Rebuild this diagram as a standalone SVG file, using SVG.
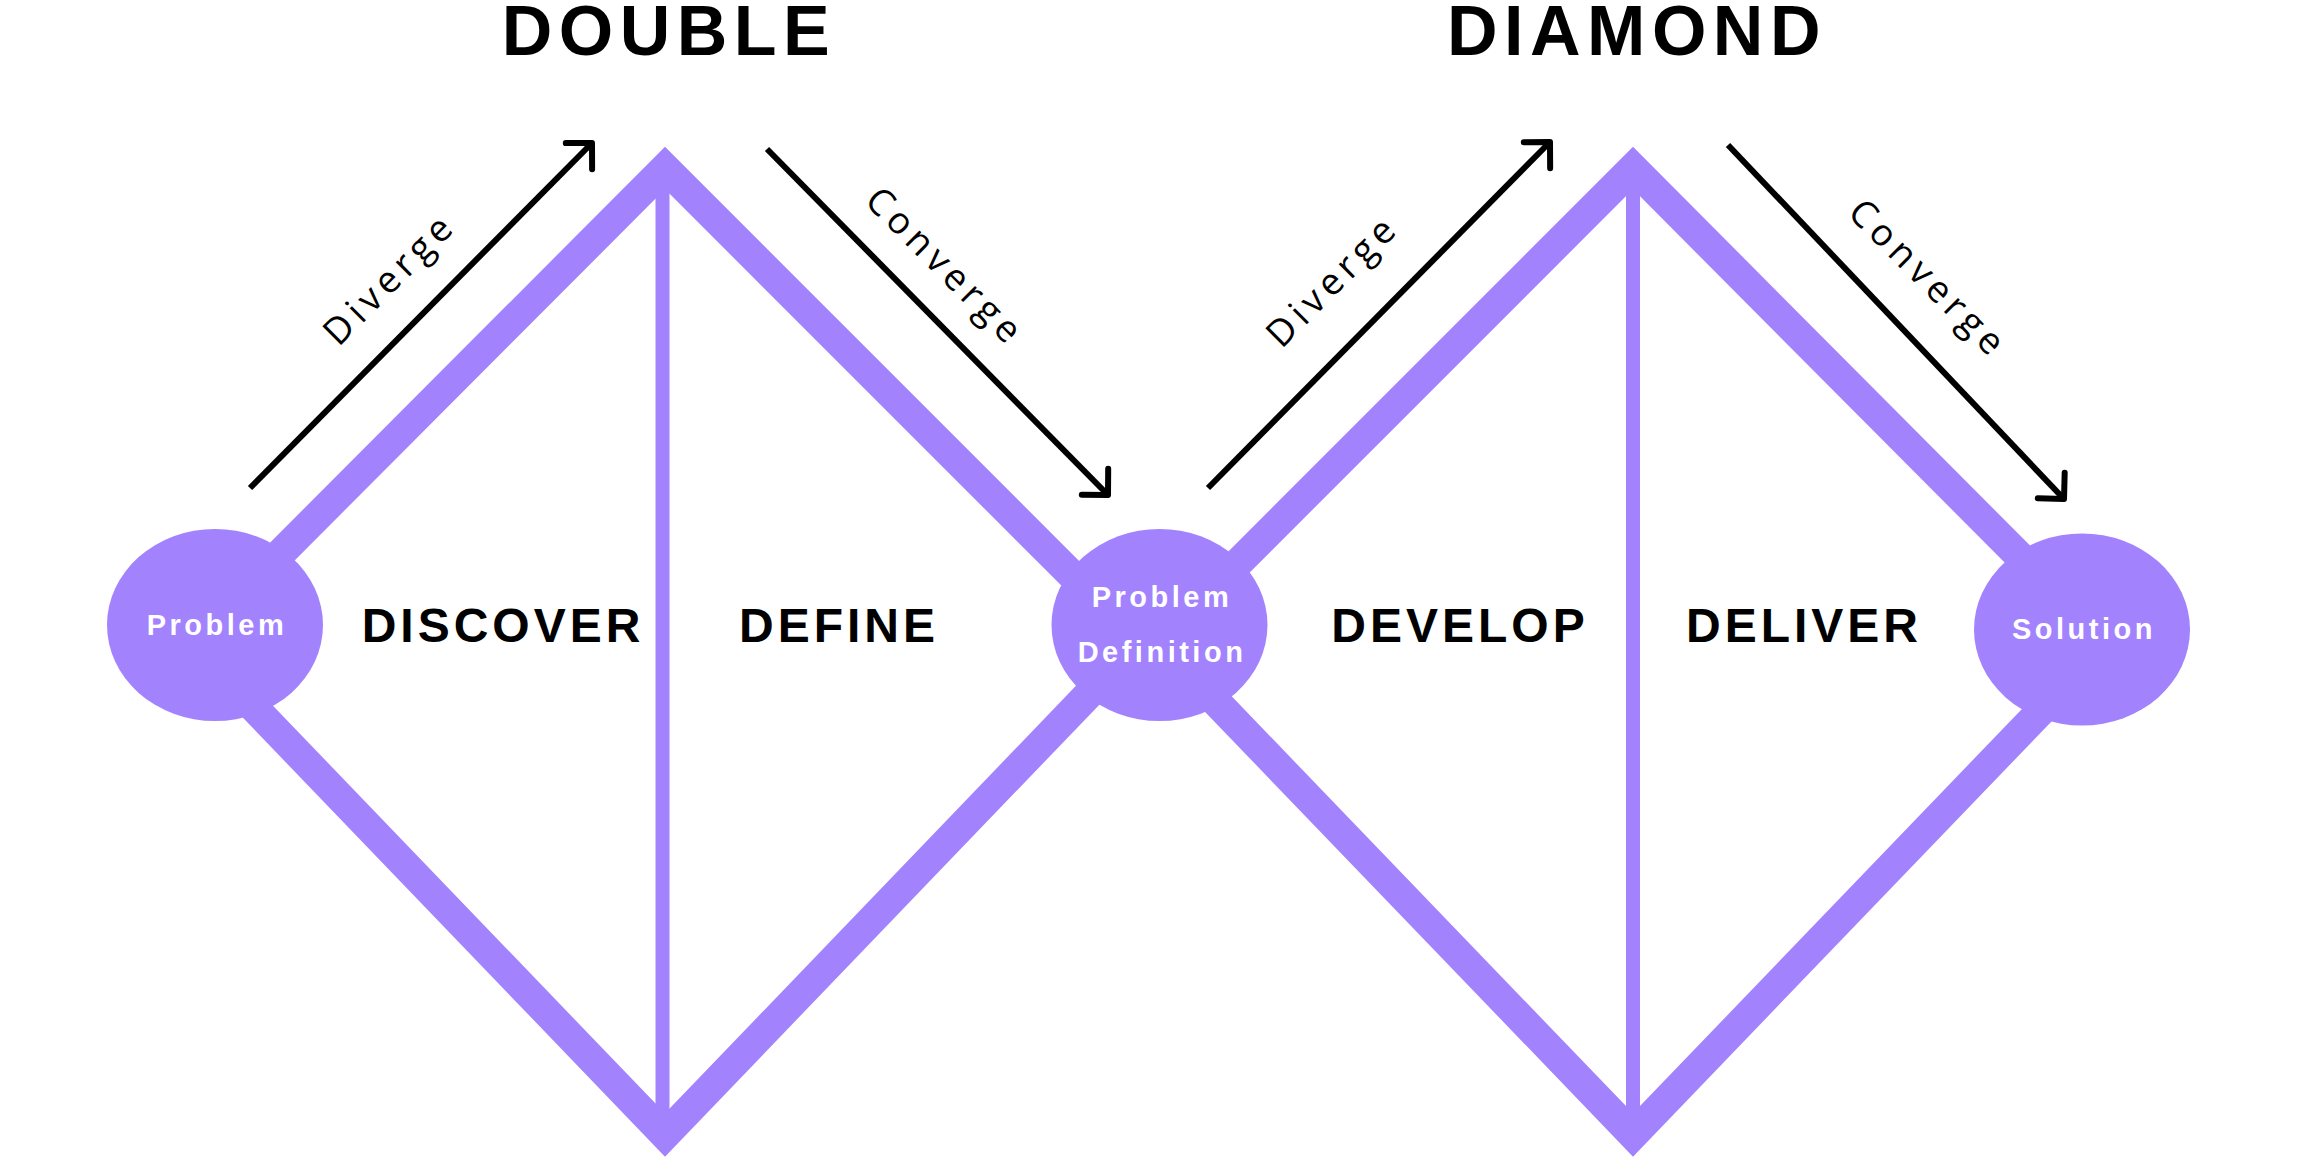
<svg xmlns="http://www.w3.org/2000/svg" width="2298" height="1158" viewBox="0 0 2298 1158">
  <style>
    .band { fill: none; stroke: #a383fd; stroke-width: 30; stroke-linejoin: miter; stroke-miterlimit: 6; }
    .axis { fill: #a383fd; }
    .node { fill: #a383fd; }
    .arrow { fill: none; stroke: #000; stroke-width: 6; marker-end: url(#chev); }
    .title { font-family: "Liberation Sans", Arial, sans-serif; font-weight: 700; font-size: 70px; letter-spacing: 6.5px; fill: #000; text-anchor: middle; }
    .phase { font-family: "Liberation Sans", Arial, sans-serif; font-weight: 700; font-size: 48px; letter-spacing: 4px; fill: #000; text-anchor: middle; }
    .nlabel { font-family: "Liberation Sans", Arial, sans-serif; font-weight: 700; font-size: 29px; letter-spacing: 3.5px; fill: #fff; text-anchor: middle; }
    .dir { font-family: "Open Sans", "Liberation Sans", sans-serif; font-weight: 400; font-size: 37px; letter-spacing: 5.5px; fill: #000; text-anchor: middle; }
  </style>
  <defs>
    <marker id="chev" markerUnits="userSpaceOnUse" orient="auto" refX="0" refY="0" markerWidth="60" markerHeight="60" viewBox="-40 -40 60 80" overflow="visible">
      <path d="M-24.7,-24.7 L0,0 L-24.7,24.7" fill="none" stroke="#000" stroke-width="8" stroke-linecap="round" stroke-linejoin="round"/>
    </marker>
  </defs>
  <rect width="2298" height="1158" fill="#fff"/>

  <g id="titles">
    <text class="title" x="669" y="55">DOUBLE</text>
    <text class="title" x="1637" y="55">DIAMOND</text>
  </g>

  <g id="connectors">
    <g id="diamond-1">
      <rect class="axis" x="655.5" y="175" width="14" height="950"/>
      <path class="band" d="M238,596 L665,168 L1120,623"/>
      <path class="band" d="M238,691 L665,1135 L1110,672"/>
    </g>
    <g id="diamond-2">
      <rect class="axis" x="1626" y="175" width="14" height="950"/>
      <path class="band" d="M1178,623 L1633,168 L2085,622"/>
      <path class="band" d="M1200,685 L1633,1135 L2060,691"/>
    </g>
    <g id="arrows">
      <line class="arrow" x1="250" y1="488" x2="592" y2="143"/>
      <line class="arrow" x1="767" y1="149" x2="1108" y2="495"/>
      <line class="arrow" x1="1208" y1="488" x2="1550" y2="142"/>
      <line class="arrow" x1="1728" y1="145" x2="2064" y2="499"/>
    </g>
    <g id="arrow-labels">
      <text class="dir" transform="translate(388,281) rotate(-45)" x="3" y="12">Diverge</text>
      <text class="dir" transform="translate(943,265) rotate(45)" x="3" y="12">Converge</text>
      <text class="dir" transform="translate(1331,283) rotate(-45)" x="3" y="12">Diverge</text>
      <text class="dir" transform="translate(1926,277) rotate(45)" x="3" y="12">Converge</text>
    </g>
  </g>

  <g id="node-problem">
    <ellipse class="node" cx="215" cy="625" rx="108" ry="96"/>
    <text class="nlabel" x="217" y="635">Problem</text>
  </g>
  <g id="node-problem-definition">
    <ellipse class="node" cx="1159.5" cy="625" rx="108" ry="96"/>
    <text class="nlabel" x="1162" y="607">Problem</text>
    <text class="nlabel" x="1162" y="662">Definition</text>
  </g>
  <g id="node-solution">
    <ellipse class="node" cx="2082" cy="629.5" rx="108" ry="96"/>
    <text class="nlabel" x="2084" y="639">Solution</text>
  </g>

  <g id="phase-discover"><text class="phase" x="503" y="642">DISCOVER</text></g>
  <g id="phase-define"><text class="phase" x="839" y="642">DEFINE</text></g>
  <g id="phase-develop"><text class="phase" x="1460" y="642">DEVELOP</text></g>
  <g id="phase-deliver"><text class="phase" x="1804" y="642">DELIVER</text></g>
</svg>
